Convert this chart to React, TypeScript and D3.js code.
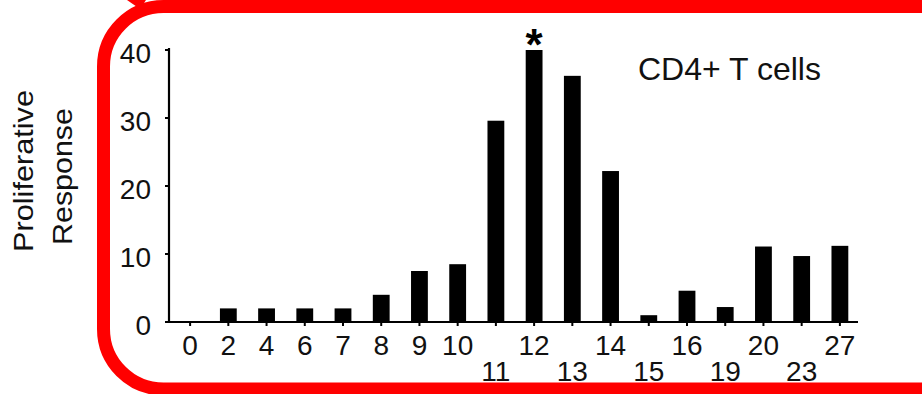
import React from "react";
import * as d3 from "d3";

const categories = ["0", "2", "4", "6", "7", "8", "9", "10", "11", "12", "13", "14", "15", "16", "19", "20", "23", "27"];
const values = [0, 2, 2, 2, 2, 4, 7.5, 8.5, 29.6, 40, 36.2, 22.2, 1, 4.6, 2.2, 11.1, 9.7, 11.2];
const labelRows = [0, 0, 0, 0, 0, 0, 0, 0, 1, 0, 1, 0, 1, 0, 1, 0, 1, 0];
const yTicks = [0, 10, 20, 30, 40];
const starCategory = "12";
const title = "CD4+ T cells";
const yLabelLines = ["Proliferative", "Response"];

const W = 922;
const H = 394;
const FONT = "'Liberation Sans', Arial, Helvetica, sans-serif";

export default function App() {
  const x = d3.scaleBand<string>().domain(categories).range([171, 859]).paddingInner(0.56).paddingOuter(0.28);
  const y = d3.scaleLinear().domain([0, 40]).range([322, 50]);
  const bw = x.bandwidth();
  const cx = (c: string) => (x(c) as number) + bw / 2;

  return (
    <svg
      width={W}
      height={H}
      viewBox={`0 0 ${W} ${H}`}
      style={{ position: "absolute", left: 0, top: 0, background: "#fff", overflow: "hidden" }}
      fontFamily={FONT}
    >
      <rect x={0} y={0} width={W} height={H} fill="#fff" />
      {/* red highlight frame */}
      <rect x={103.5} y={6.5} width={1000} height={382.5} rx={60} ry={60} fill="none" stroke="#ff0000" strokeWidth={13} />
      <polygon points="127,0 146,0 140,9" fill="#ff0000" />

      {/* y axis */}
      <line x1={169} x2={169} y1={y(40) - 2} y2={y(0)} stroke="#000" strokeWidth={2.2} />
      {yTicks.map((t) => (
        <g key={t}>
          <line x1={165} x2={169} y1={y(t)} y2={y(t)} stroke="#000" strokeWidth={2} />
          <text x={151} y={y(t) + 3} dy="0.36em" textAnchor="end" fontSize={28} fill="#111">
            {t}
          </text>
        </g>
      ))}

      {/* x axis */}
      <line x1={168} x2={858} y1={y(0)} y2={y(0)} stroke="#000" strokeWidth={2} />
      {categories.map((c, i) => (
        <g key={c}>
          <line x1={cx(c)} x2={cx(c)} y1={y(0)} y2={y(0) + 4} stroke="#000" strokeWidth={2} />
          <text x={cx(c)} y={labelRows[i] === 0 ? 355 : 381} textAnchor="middle" fontSize={28} fill="#111">
            {c}
          </text>
        </g>
      ))}

      {/* bars */}
      {categories.map((c, i) =>
        values[i] > 0 ? (
          <rect key={c} x={x(c)} y={y(values[i])} width={bw} height={y(0) - y(values[i])} fill="#000" />
        ) : null
      )}

      {/* significance star */}
      <text x={cx(starCategory)} y={60} textAnchor="middle" fontSize={44} fontWeight="bold" fill="#000">
        *
      </text>

      {/* title */}
      <text x={638} y={80} fontSize={32} fill="#111">
        {title}
      </text>

      {/* y label */}
      <text transform="translate(33,171) rotate(-90)" textAnchor="middle" fontSize={28} fill="#111" textLength={162} lengthAdjust="spacingAndGlyphs">
        {yLabelLines[0]}
      </text>
      <text transform="translate(72,176.5) rotate(-90)" textAnchor="middle" fontSize={28} fill="#111" textLength={137} lengthAdjust="spacingAndGlyphs">
        {yLabelLines[1]}
      </text>
    </svg>
  );
}
